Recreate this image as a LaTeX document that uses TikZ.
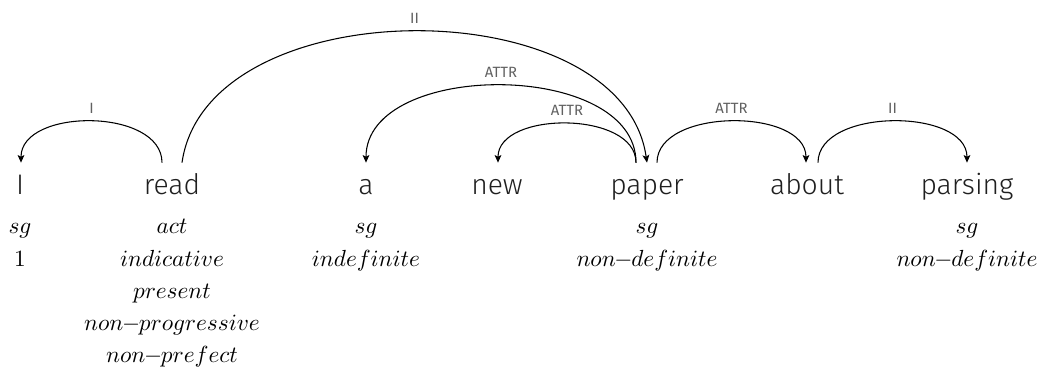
\documentclass[tikz,border=0pt]{standalone}
\usepackage{fontspec}
\newfontfamily\wordfont{Fira Sans Light}
\newfontfamily\labelfont{Fira Sans}
\usetikzlibrary{arrows.meta,calc}
\newcommand{\fdash}{\mkern-1mu{-}\mkern-1mu}
\begin{document}
\begin{tikzpicture}[x=0.47pt,y=-0.47pt,
  word/.style={font=\wordfont\fontsize{13.3}{16}\selectfont, text=black!88, anchor=base, inner sep=0pt, text height=15pt},
  feat/.style={anchor=base, inner sep=0pt, font=\fontsize{11.2}{14}\selectfont},
  arc/.style={-{Stealth[length=3.6pt,width=3.2pt,inset=0.8pt]}, line width=0.5pt},
  lab/.style={font=\labelfont\fontsize{7}{8}\selectfont, text=black!62, anchor=base, inner sep=0pt, yshift=3.8pt}]
\useasboundingbox (0,0) rectangle (1040,379);
% words
\node[word] (I) at (20,195) {I};
\node[word] (read) at (172,195) {read};
\node[word] (a) at (366,195) {a};
\node[word] (new) at (497,195) {new};
\node[word] (paper) at (647,195) {paper};
\node[word] (about) at (807,195) {about};
\node[word] (parsing) at (967,195) {parsing};
% features
\foreach \t [count=\i] in {sg,1}
  \node[feat] (I-f\i) at (20,{234+32.2*(\i-1)}) {$\t$};
\foreach \t [count=\i] in {act,indicative,present,non\fdash progressive,non\fdash prefect}
  \node[feat] (read-f\i) at (172,{234+32.2*(\i-1)}) {$\t$};
\foreach \t [count=\i] in {sg,indefinite}
  \node[feat] (a-f\i) at (366,{234+32.2*(\i-1)}) {$\t$};
\foreach \t [count=\i] in {sg,non\fdash definite}
  \node[feat] (paper-f\i) at (647,{234+32.2*(\i-1)}) {$\t$};
\foreach \t [count=\i] in {sg,non\fdash definite}
  \node[feat] (parsing-f\i) at (967,{234+32.2*(\i-1)}) {$\t$};
% arc end points
\coordinate (readA) at ($(read.north)+(-10,0)$);
\coordinate (readB) at ($(read.north)+(10,0)$);
\coordinate (Iin) at ($(I.north)+(1,0)$);
\coordinate (aIn) at ($(a.north)+(0,0)$);
\coordinate (newIn) at ($(new.north)+(1,0)$);
\coordinate (paperOut) at ($(paper.north)+(-11,0)$);
\coordinate (paperIn) at ($(paper.north)+(0,0)$);
\coordinate (paperR) at ($(paper.north)+(10,0)$);
\coordinate (aboutIn) at ($(about.north)+(-1,0)$);
\coordinate (aboutOut) at ($(about.north)+(11,0)$);
\coordinate (parsIn) at ($(parsing.north)+(0,0)$);
% arcs
\draw[arc] (readA) .. controls ($(readA)+(0,-55)$) and ($(Iin)+(0,-55)$) .. (Iin) node[lab,pos=.5] {I};
\draw[arc] (readB) .. controls ($(readB)+(25,-175)$) and ($(paperIn)+(-25,-175)$) .. (paperIn) node[lab,pos=.5] {II};
\draw[arc] (paperOut) .. controls ($(paperOut)+(0,-103)$) and ($(aIn)+(0,-103)$) .. (aIn) node[lab,pos=.5] {ATTR};
\draw[arc] (paperOut) .. controls ($(paperOut)+(0,-52)$) and ($(newIn)+(0,-52)$) .. (newIn) node[lab,pos=.5] {ATTR};
\draw[arc] (paperR) .. controls ($(paperR)+(0,-55)$) and ($(aboutIn)+(0,-55)$) .. (aboutIn) node[lab,pos=.5] {ATTR};
\draw[arc] (aboutOut) .. controls ($(aboutOut)+(0,-55)$) and ($(parsIn)+(0,-55)$) .. (parsIn) node[lab,pos=.5] {II};
\end{tikzpicture}
\end{document}
